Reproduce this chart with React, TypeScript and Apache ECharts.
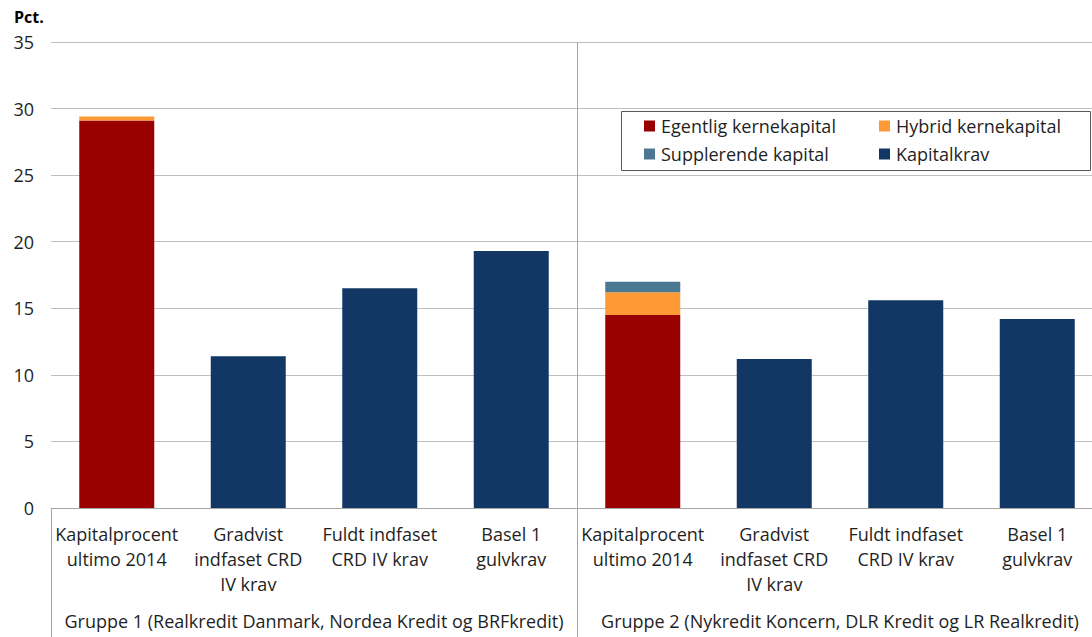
import React, { useEffect, useRef } from "react";
import * as echarts from "echarts";

const categories = [
  "Kapitalprocent\nultimo 2014",
  "Gradvist\nindfaset CRD\nIV krav",
  "Fuldt indfaset\nCRD IV krav",
  "Basel 1\ngulvkrav",
  "Kapitalprocent\nultimo 2014",
  "Gradvist\nindfaset CRD\nIV krav",
  "Fuldt indfaset\nCRD IV krav",
  "Basel 1\ngulvkrav",
];
const groups = [
  "Gruppe 1 (Realkredit Danmark, Nordea Kredit og BRFkredit)",
  "Gruppe 2 (Nykredit Koncern, DLR Kredit og LR Realkredit)",
];

const egentligKernekapital = [29.1, "-", "-", "-", 14.5, "-", "-", "-"];
const hybridKernekapital = [0.3, "-", "-", "-", 1.7, "-", "-", "-"];
const supplerendeKapital = [0, "-", "-", "-", 0.8, "-", "-", "-"];
const kapitalkrav = ["-", 11.4, 16.5, 19.3, "-", 11.2, 15.6, 14.2];

const yTicks = { min: 0, max: 35, interval: 5 };

const FONT = "'Open Sans', 'Liberation Sans', sans-serif";
const TEXT = "#1f1f1f";
const FS = 18;

export default function App() {
  const ref = useRef<HTMLDivElement>(null);

  useEffect(() => {
    if (!ref.current) return;
    const chart = echarts.init(ref.current, undefined, { renderer: "svg" });

    const bar = (name: string, data: any[], color: string) => ({
      name,
      type: "bar",
      stack: "total",
      data,
      barWidth: 75,
      xAxisIndex: 0,
      itemStyle: { color },
    });

    const legendBase = {
      orient: "vertical",
      top: 112,
      itemWidth: 11,
      itemHeight: 11,
      itemGap: 10,
      icon: "rect",
      selectedMode: false,
      textStyle: { color: TEXT, fontSize: FS, fontFamily: FONT, padding: [0, 0, 0, 1] },
    };

    chart.setOption({
      animation: false,
      textStyle: { fontFamily: FONT },
      grid: { left: 51, right: 7, top: 42, bottom: 129, containLabel: false },
      xAxis: [
        {
          type: "category",
          data: categories,
          position: "bottom",
          axisLine: { show: true, lineStyle: { color: "#a6a6a6", width: 1 } },
          axisTick: { show: false },
          axisLabel: {
            interval: 0,
            margin: 13,
            color: TEXT,
            fontSize: FS,
            lineHeight: 25,
            fontFamily: FONT,
          },
        },
        {
          type: "category",
          data: groups,
          position: "bottom",
          axisLine: { show: false },
          axisTick: {
            show: true,
            interval: 0,
            length: 135,
            lineStyle: { color: "#a6a6a6", width: 1 },
          },
          splitLine: {
            show: true,
            interval: 0,
            showMinLine: false,
            showMaxLine: false,
            lineStyle: { color: "#a6a6a6", width: 1 },
          },
          axisLabel: {
            interval: 0,
            margin: 104,
            color: TEXT,
            fontSize: FS,
            fontFamily: FONT,
          },
        },
      ],
      yAxis: {
        type: "value",
        min: yTicks.min,
        max: yTicks.max,
        interval: yTicks.interval,
        name: "Pct.",
        nameLocation: "end",
        nameGap: 17,
        nameTextStyle: {
          color: "#000",
          fontWeight: "bold",
          fontSize: 16,
          fontFamily: FONT,
          align: "left",
          padding: [0, 0, 0, -37],
        },
        axisLine: { show: false },
        axisTick: { show: false },
        axisLabel: { color: TEXT, fontSize: FS, margin: 17, fontFamily: FONT },
        splitLine: { lineStyle: { color: "#bfbfbf", width: 1 } },
      },
      legend: [
        { ...legendBase, left: 639, data: ["Egentlig kernekapital", "Supplerende kapital"] },
        { ...legendBase, left: 874, data: ["Hybrid kernekapital", "Kapitalkrav"] },
      ],
      graphic: [
        {
          type: "rect",
          left: 621,
          top: 111,
          z: 0,
          shape: { width: 469, height: 59 },
          style: { fill: "#fff", stroke: "#595959", lineWidth: 1 },
        },
      ],
      series: [
        bar("Egentlig kernekapital", egentligKernekapital, "#990000"),
        bar("Hybrid kernekapital", hybridKernekapital, "#fd9a35"),
        bar("Supplerende kapital", supplerendeKapital, "#4d7891"),
        bar("Kapitalkrav", kapitalkrav, "#133764"),
      ],
    });

    return () => chart.dispose();
  }, []);

  return (
    <div
      style={{
        position: "fixed",
        left: 0,
        top: 0,
        width: 1092,
        height: 637,
        overflow: "hidden",
        background: "#fff",
      }}
    >
      <div ref={ref} style={{ width: 1110, height: 637 }} />
    </div>
  );
}
